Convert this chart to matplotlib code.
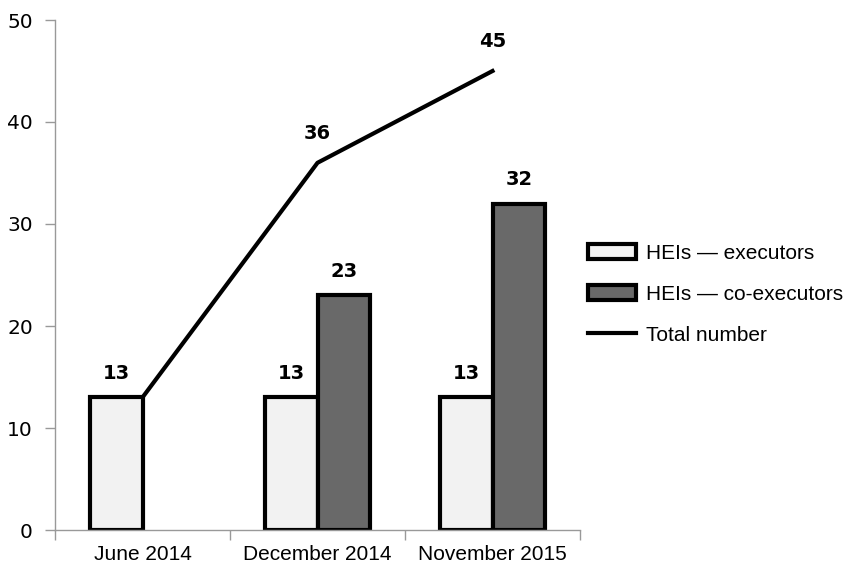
import matplotlib.pyplot as plt
import numpy as np

periods = ["June 2014", "December 2014", "November 2015"]
executors = [13, 13, 13]
co_executors = [np.nan, 23, 32]
total = [13, 36, 45]

fig = plt.figure(figsize=(8.46, 5.65), dpi=100)
ax = fig.add_axes([55 / 846, 1 - 530 / 565, 525 / 846, 510 / 565])

x = np.arange(len(periods))
w = 0.3
ax.bar(x - w / 2, executors, w, color="#f2f2f2", edgecolor="black", linewidth=3,
       label="HEIs — executors", zorder=2)
ax.bar(x + w / 2, co_executors, w, color="#696969", edgecolor="black", linewidth=3,
       label="HEIs — co-executors", zorder=2)
ax.plot(x, total, color="black", linewidth=3, label="Total number", zorder=3)

# value labels
for i in range(len(x)):
    ax.annotate(str(executors[i]), (x[i] - w / 2, executors[i]), xytext=(0, 17),
                textcoords="offset points", ha="center", va="center",
                fontsize=14, fontweight="bold")
    if not np.isnan(co_executors[i]):
        ax.annotate(str(int(co_executors[i])), (x[i] + w / 2, co_executors[i]),
                    xytext=(0, 17), textcoords="offset points", ha="center",
                    va="center", fontsize=14, fontweight="bold")
for i in range(1, len(x)):
    ax.annotate(str(total[i]), (x[i], total[i]), xytext=(0, 21),
                textcoords="offset points", ha="center", va="center",
                fontsize=14, fontweight="bold")

ax.set_xlim(-0.5, 2.5)
ax.set_ylim(0, 50)
ax.set_yticks(range(0, 51, 10))
ax.set_xticks(x)
ax.set_xticklabels(periods, fontsize=15, family="Liberation Sans")
ax.set_xticks([-0.5, 0.5, 1.5, 2.5], minor=True)
ax.tick_params(axis="x", which="major", length=0, pad=11)
ax.tick_params(axis="x", which="minor", length=7, color="#999999", width=1)
ax.tick_params(axis="y", length=7, color="#999999", width=1, pad=9, labelsize=14.5)

for s in ["top", "right"]:
    ax.spines[s].set_visible(False)
for s in ["left", "bottom"]:
    ax.spines[s].set_color("#999999")
    ax.spines[s].set_linewidth(1)

h, l = ax.get_legend_handles_labels()
order = [1, 2, 0]
fig.legend([h[i] for i in order], [l[i] for i in order], loc="center left",
           bbox_to_anchor=(588 / 846, 1 - 294.5 / 565),
           frameon=False, prop={"family": "Liberation Sans", "size": 15},
           handlelength=2.3, handleheight=0.75, handletextpad=0.5,
           labelspacing=1.05, borderpad=0, borderaxespad=0)

fig.savefig("out.png", dpi=100)
